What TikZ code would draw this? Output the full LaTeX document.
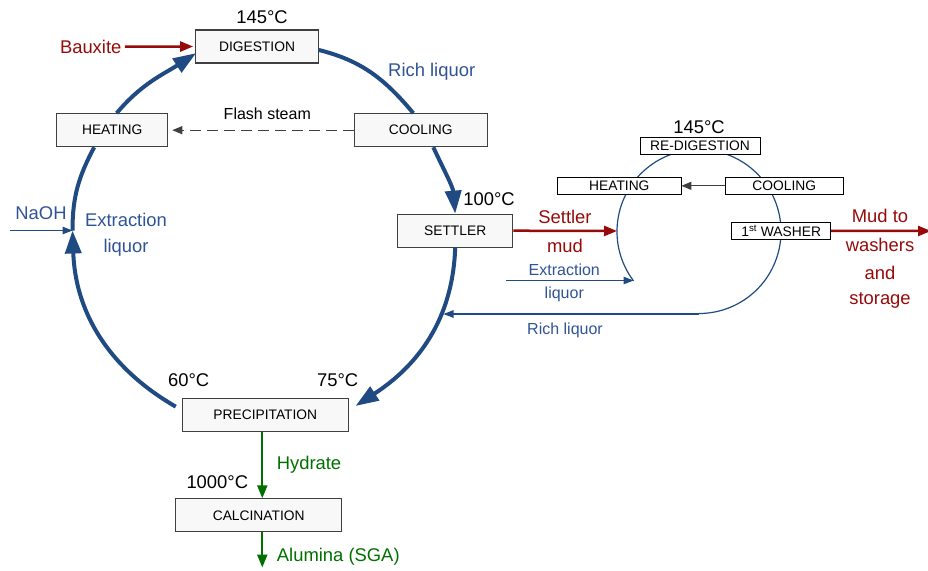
\documentclass[tikz,border=0pt]{standalone}
\usepackage{fontspec}
\setmainfont{Liberation Sans}
\usetikzlibrary{arrows.meta}
\definecolor{lineblue}{RGB}{31,75,130}
\definecolor{textblue}{RGB}{47,84,150}
\definecolor{mudred}{RGB}{150,10,10}
\definecolor{hydgreen}{RGB}{0,112,0}
\definecolor{boxgray}{RGB}{64,64,64}
\definecolor{boxfill}{RGB}{248,248,248}
\begin{document}
\begin{tikzpicture}[x=1pt,y=-1pt,
  bigbox/.style={draw=boxgray, fill=boxfill, line width=1.1pt, inner sep=0pt, font=\fontsize{13.8}{16}\selectfont, minimum height=33pt},
  smallbox/.style={draw=black, fill=white, line width=0.9pt, inner sep=0pt, font=\fontsize{13.8}{16}\selectfont, minimum height=17pt},
  big/.style={font=\fontsize{18.4}{20}\selectfont},
  mid/.style={font=\fontsize{16}{18}\selectfont},
  loopline/.style={draw=lineblue, line width=4pt},
  looparrow/.style={loopline, -{Triangle[length=23pt,width=16pt]}},
  thinblue/.style={draw=lineblue, line width=1.2pt},
  thinarrow/.style={thinblue, -{Triangle[length=10pt,width=7.5pt]}},
  redarrow/.style={draw=mudred, line width=2.5pt, -{Triangle[length=13pt,width=10pt]}},
  greenarrow/.style={draw=hydgreen, line width=2.2pt, -{Triangle[length=13pt,width=10pt]}},
  grayarrow/.style={draw=boxgray, line width=1.2pt, -{Triangle[length=10pt,width=8pt]}},
]
\useasboundingbox (0,0) rectangle (928,570);

% small loop circle (drawn first so boxes cover it)
\coordinate (c2) at (699,231.5);
\draw[thinblue] (c2) ++(143:82) arc[start angle=143, end angle=450, radius=82];
\coordinate (c2w) at (617,231);
\coordinate (c2x) at (633.5,280.5);
\coordinate (c2b) at (699,314);

% main boxes
\node[bigbox, minimum width=122.6pt] (dig) at (257,46.5) {DIGESTION};
\node[bigbox, minimum width=111pt] (heatL) at (112.2,130.2) {HEATING};
\node[bigbox, minimum width=133pt] (coolL) at (420.8,130.2) {COOLING};
\node[bigbox, minimum width=115pt] (settler) at (455.2,230.7) {SETTLER};
\node[bigbox, minimum width=166pt] (precip) at (265.3,414.7) {PRECIPITATION};
\node[bigbox, minimum width=166pt] (calc) at (258.7,515.3) {CALCINATION};

% small loop boxes
\node[smallbox, minimum width=120pt] (redig) at (700,145.7) {RE-DIGESTION};
\node[smallbox, minimum width=123.3pt] (heatR) at (619.3,185.8) {HEATING};
\node[smallbox, minimum width=118.7pt] (coolR) at (784.3,185.8) {COOLING};
\node[smallbox, minimum width=99pt] (washer) at (781.2,230.8) {1\textsuperscript{st} WASHER};

% labels
\node[big] (t145) at (262,17) {145°C};
\node[big] (t100) at (489,199) {100°C};
\node[big] (t60) at (188.7,380) {60°C};
\node[big] (t75) at (337.7,380) {75°C};
\node[big] (t1000) at (217.3,481.7) {1000°C};
\node[big] (t145b) at (699,126.7) {145°C};
\node[big, text=mudred] (baux) at (90.7,46.7) {Bauxite};
\node[big, text=textblue] (rich) at (431.7,71.7) {Rich liquor};
\node[mid] (flash) at (267.3,113.3) {Flash steam};
\node[big, text=textblue] (naoh) at (41,213.3) {NaOH};
\node[big, text=textblue] (ext1) at (126,220) {Extraction};
\node[big, text=textblue] (ext2) at (126,247.3) {liquor};
\node[big, text=mudred] (sm1) at (565,217.3) {Settler};
\node[big, text=mudred] (sm2) at (565,245.7) {mud};
\node[big, text=mudred] (mw1) at (880,216) {Mud to};
\node[big, text=mudred] (mw2) at (880,245) {washers};
\node[big, text=mudred] (mw3) at (880,272.7) {and};
\node[big, text=mudred] (mw4) at (880,300) {storage};
\node[mid, text=textblue] (sx1) at (564.3,270) {Extraction};
\node[mid, text=textblue] (sx2) at (564.3,294.3) {liquor};
\node[mid, text=textblue] (srl) at (565,330) {Rich liquor};
\node[big, text=hydgreen] (hyd) at (309,464.3) {Hydrate};
\node[big, text=hydgreen] (alu) at (338.3,556.7) {Alumina (SGA)};

% main cycle
\coordinate (j) at (72.5,230.5);
\draw[loopline] ([yshift=-3.5pt]dig.east) to[out=-14,in=130] ([xshift=-7.5pt]coolL.north);
\draw[looparrow] ([xshift=12.5pt]coolL.south) to[out=-65,in=95] (settler.north);
\draw[looparrow] (settler.south) to[out=-92,in=33] ([xshift=6.7pt,yshift=-8.3pt]precip.north east);
\draw[looparrow] ([xshift=-6pt,yshift=-9pt]precip.north west) to[out=150,in=-88] (j);
\draw[loopline] (j) to[out=90,in=-118] ([xshift=-18pt]heatL.south);
\draw[looparrow] ([xshift=4.5pt]heatL.north) to[out=50,in=213] ([xshift=1pt,yshift=-6.6pt]dig.west);

% other connectors
\draw[redarrow] (baux.east) -- ([xshift=-2pt]dig.west);
\draw[grayarrow, dash pattern=on 11pt off 6pt] (coolL.west) -- ([xshift=4pt]heatL.east);
\coordinate (naohs) at (10,230.5);
\draw[thinarrow] (naohs) -- (j);
\draw[redarrow] (settler.east) -- (c2w);
\coordinate (mudend) at (931,231);
\draw[redarrow] (washer.east) -- (mudend);
\draw[grayarrow] (coolR.west) -- (heatR.east);
\coordinate (xs) at (506,280.5);
\draw[thinarrow] (xs) -- (c2x);
\coordinate (rl) at (443.5,314);
\draw[thinarrow] (c2b) -- (rl);
\draw[greenarrow] ([xshift=-3pt]precip.south) -- ([xshift=-3pt]precip.south |- calc.north);
\coordinate (alend) at (262.3,567.5);
\draw[greenarrow] ([xshift=3.6pt]calc.south) -- (alend);
\end{tikzpicture}
\end{document}
